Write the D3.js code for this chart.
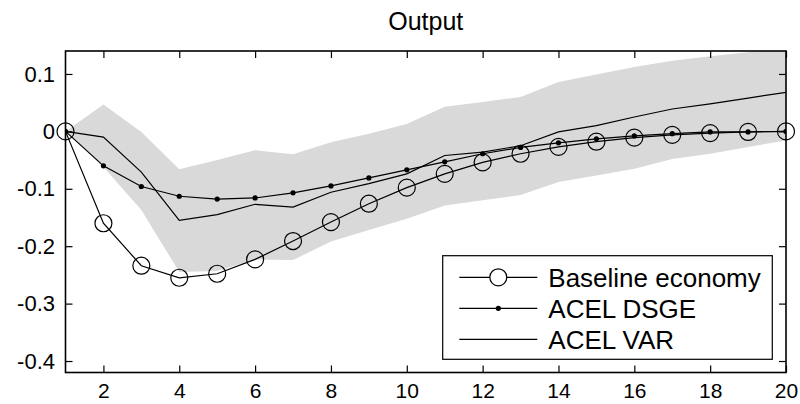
<!DOCTYPE html>
<html>
<head>
<meta charset="utf-8">
<script src="https://cdn.jsdelivr.net/npm/d3@7"></script>
<style>
  html, body { margin: 0; padding: 0; background: #fff; }
  svg { display: block; font-family: "Liberation Sans", Arial, sans-serif; }
</style>
</head>
<body>
<svg id="chart" width="800" height="404"></svg>
<script>
// Horizon (quarters) for the impulse responses
const periods = d3.range(1, 21);

// Impulse responses of output
const baseline = [0, -0.160, -0.234, -0.255, -0.248, -0.223, -0.191, -0.158, -0.126, -0.098,
                  -0.074, -0.054, -0.039, -0.027, -0.018, -0.011, -0.006, -0.003, -0.001, 0];
const acelDsge = [0, -0.060, -0.096, -0.113, -0.118, -0.116, -0.107, -0.095, -0.081, -0.067,
                  -0.053, -0.039, -0.028, -0.020, -0.013, -0.008, -0.004, -0.001, -0.001, 0];
const acelVar  = [0, -0.010, -0.071, -0.155, -0.145, -0.127, -0.132, -0.106, -0.091, -0.074,
                  -0.042, -0.036, -0.025, -0.001, 0.010, 0.025, 0.039, 0.048, 0.058, 0.068];

// Confidence band around the VAR response
const bandUpper = [0, 0.047, -0.001, -0.066, -0.050, -0.033, -0.040, -0.019, -0.004, 0.013,
                   0.043, 0.051, 0.060, 0.086, 0.099, 0.112, 0.123, 0.131, 0.138, 0.145];
const bandLower = [0, -0.062, -0.137, -0.245, -0.243, -0.223, -0.224, -0.192, -0.172, -0.152,
                   -0.129, -0.120, -0.111, -0.088, -0.077, -0.065, -0.048, -0.039, -0.027, -0.016];

const xTicks = [2, 4, 6, 8, 10, 12, 14, 16, 18, 20];
const yTicks = [-0.4, -0.3, -0.2, -0.1, 0, 0.1];
const seriesNames = ["Baseline economy", "ACEL DSGE", "ACEL VAR"];
const chartTitle = "Output";

const svg = d3.select("#chart");
const plotL = 65.5, plotR = 786, plotT = 51, plotB = 372.5;

const x = d3.scaleLinear().domain([1, 20]).range([plotL, plotR]);
const y = d3.scaleLinear().domain([-0.42, 0.14]).range([plotB, plotT]);

svg.append("defs").append("clipPath").attr("id", "plotClip")
  .append("rect")
  .attr("x", plotL).attr("y", plotT)
  .attr("width", plotR - plotL).attr("height", plotB - plotT);

const plot = svg.append("g").attr("clip-path", "url(#plotClip)");

// Shaded band
const area = d3.area()
  .x((d, i) => x(periods[i]))
  .y0((d, i) => y(bandLower[i]))
  .y1((d, i) => y(bandUpper[i]));
plot.append("path")
  .datum(bandUpper)
  .attr("d", area)
  .attr("fill", "#d9d9d9")
  .attr("stroke", "none");

const line = d3.line().x((d, i) => x(periods[i])).y(d => y(d));

// ACEL VAR line
plot.append("path").datum(acelVar).attr("d", line)
  .attr("fill", "none").attr("stroke", "#000").attr("stroke-width", 1.2);

// ACEL DSGE line with dots
plot.append("path").datum(acelDsge).attr("d", line)
  .attr("fill", "none").attr("stroke", "#000").attr("stroke-width", 1.2);
plot.selectAll("circle.dsge").data(acelDsge).join("circle")
  .attr("class", "dsge")
  .attr("cx", (d, i) => x(periods[i])).attr("cy", d => y(d))
  .attr("r", 2.6).attr("fill", "#000");

// Baseline line with open circles
plot.append("path").datum(baseline).attr("d", line)
  .attr("fill", "none").attr("stroke", "#000").attr("stroke-width", 1.2);
svg.selectAll("circle.base").data(baseline).join("circle")
  .attr("class", "base")
  .attr("cx", (d, i) => x(periods[i])).attr("cy", d => y(d))
  .attr("r", 8.5).attr("fill", "none").attr("stroke", "#000").attr("stroke-width", 1.2);

// Axes with inward ticks on all four sides
const fmt = d => d === 0 ? "0" : d.toFixed(1);

const gBottom = svg.append("g").attr("transform", `translate(0,${plotB})`)
  .call(d3.axisBottom(x).tickValues(xTicks).tickSizeInner(-7).tickSizeOuter(0).tickPadding(11));
const gTop = svg.append("g").attr("transform", `translate(0,${plotT})`)
  .call(d3.axisTop(x).tickValues(xTicks).tickSizeInner(-7).tickSizeOuter(0).tickFormat(""));
const gLeft = svg.append("g").attr("transform", `translate(${plotL},0)`)
  .call(d3.axisLeft(y).tickValues(yTicks).tickSizeInner(-7).tickSizeOuter(0).tickPadding(10.5).tickFormat(fmt));
const gRight = svg.append("g").attr("transform", `translate(${plotR},0)`)
  .call(d3.axisRight(y).tickValues(yTicks).tickSizeInner(-7).tickSizeOuter(0).tickFormat(""));

[gBottom, gTop, gLeft, gRight].forEach(g => {
  g.select(".domain").remove();
  g.selectAll(".tick line").attr("stroke", "#000").attr("stroke-width", 1.2);
  g.selectAll(".tick text").attr("fill", "#000").attr("font-size", 22)
    .attr("font-family", "Liberation Sans, Arial, sans-serif");
});
gBottom.selectAll(".tick text").attr("font-size", 21);

// Axes box
svg.append("rect")
  .attr("x", plotL).attr("y", plotT)
  .attr("width", plotR - plotL).attr("height", plotB - plotT)
  .attr("fill", "none").attr("stroke", "#000").attr("stroke-width", 1.6);

// Title
svg.append("text")
  .attr("x", (plotL + plotR) / 2).attr("y", 30)
  .attr("text-anchor", "middle")
  .attr("font-size", 25)
  .attr("fill", "#000")
  .text(chartTitle);

// Legend
const legend = svg.append("g");
legend.append("rect")
  .attr("x", 442.7).attr("y", 255.7)
  .attr("width", 329.6).attr("height", 103.6)
  .attr("fill", "#fff").attr("stroke", "#000").attr("stroke-width", 1.2);

const rows = [277.3, 308.3, 339.3];
seriesNames.forEach((name, i) => {
  const ry = rows[i];
  legend.append("line")
    .attr("x1", 459.3).attr("x2", 537.3).attr("y1", ry).attr("y2", ry)
    .attr("stroke", "#000").attr("stroke-width", 1.2);
  if (i === 0) {
    legend.append("circle").attr("cx", 498.3).attr("cy", ry).attr("r", 8.5)
      .attr("fill", "#fff").attr("stroke", "#000").attr("stroke-width", 1.2);
  } else if (i === 1) {
    legend.append("circle").attr("cx", 498.3).attr("cy", ry).attr("r", 2.6).attr("fill", "#000");
  }
  legend.append("text")
    .attr("x", 548.3).attr("y", ry).attr("dy", "0.36em")
    .attr("font-size", 26).attr("fill", "#000")
    .text(name);
});
</script>
</body>
</html>
